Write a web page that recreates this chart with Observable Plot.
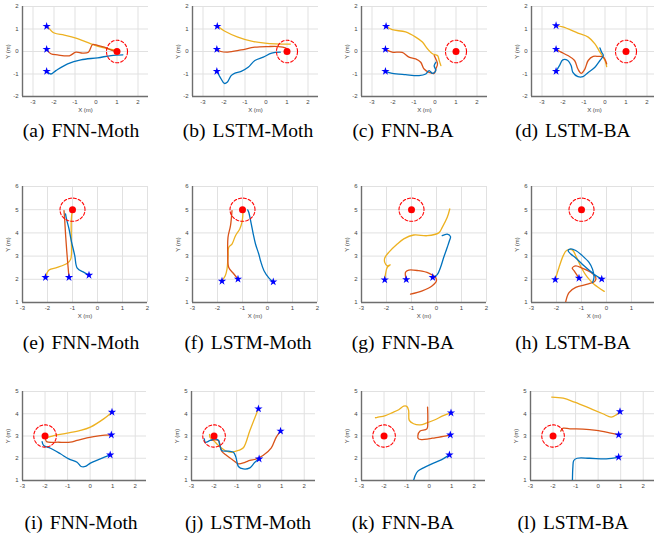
<!DOCTYPE html>
<html><head><meta charset="utf-8">
<script src="https://cdn.jsdelivr.net/npm/d3@7"></script>
<script src="https://cdn.jsdelivr.net/npm/@observablehq/plot@0.6"></script>
<style>
html,body{margin:0;padding:0;background:#fff;}
#root{position:relative;width:654px;height:538px;overflow:hidden;background:#fff;}
.panel{position:absolute;}
.cap{position:absolute;font-family:"Liberation Serif","Times New Roman",serif;font-size:19.5px;line-height:19.5px;color:#000;white-space:nowrap;transform:translateX(-50%);}
.cap .lab{margin-right:7px;}
</style></head><body><div id="root"></div>
<script>
// ---------- DATA ----------
const captionLabels = ["(a)","(b)","(c)","(d)","(e)","(f)","(g)","(h)","(i)","(j)","(k)","(l)"];
const methods = ["FNN-Moth","LSTM-Moth","FNN-BA","LSTM-BA"];

const row1XTicks = [-3,-2,-1,0,1,2];
const row1YTicks = [-2,-1,0,1,2];
const row2XTicks = [-3,-2,-1,0,1,2];
const row2YTicks = [1,2,3,4,5,6];
const row3XTicks = [-3,-2,-1,0,1,2];
const row3YTicks = [1,2,3,4,5];

const targets = [[1,0],[-1,5],[-2,3]];
const targetRadius = 0.5;

const a_stars = [[-2.35,1.12],[-2.35,0.1],[-2.35,-0.88]];
const a_yel = [[-2.31,1.12],[-1.99,0.82],[-1.51,0.73],[-0.88,0.57],[-0.24,0.34],[0.24,0.19],[0.72,0.09],[1.04,0.04]];
const a_red = [[-2.35,0.1],[-2.15,-0.1],[-1.83,-0.15],[-1.27,-0.19],[-0.96,-0.03],[-0.64,-0.07],[-0.36,-0.03],[-0.16,0.31],[0.08,0.27],[0.4,0.19],[0.8,0.04],[0.96,0]];
const a_blu = [[-2.35,-0.88],[-2.15,-1.0],[-1.91,-0.85],[-1.35,-0.55],[-0.72,-0.37],[0.08,-0.28],[0.72,-0.18],[1.28,-0.15]];

const b_stars = [[-2.32,1.12],[-2.34,0.1],[-2.34,-0.88]];
const b_yel = [[-2.3,1.12],[-1.98,0.91],[-1.34,0.64],[-0.69,0.46],[-0.05,0.37],[0.44,0.34],[1.16,0.33]];
const b_red = [[-2.34,0.1],[-2.15,0],[-1.82,-0.03],[-1.18,0.07],[-0.53,0.19],[0.11,0.22],[0.6,0.22],[0.92,0.16],[1.0,0.1]];
const b_blu = [[-2.34,-0.88],[-2.18,-1.15],[-1.98,-1.42],[-1.85,-1.37],[-1.66,-1.07],[-1.5,-0.97],[-1.18,-0.88],[-0.85,-0.7],[-0.53,-0.4],[-0.13,-0.25],[0.27,-0.07],[0.68,-0.03]];

const c_stars = [[-2.33,1.12],[-2.36,0.1],[-2.36,-0.88]];
const c_yel = [[-2.33,1.12],[-2.04,0.97],[-1.4,0.87],[-0.92,0.64],[-0.6,0.42],[-0.36,0.12],[-0.12,-0.1],[0.12,-0.18],[0.2,-0.4],[0.28,-0.63]];
const c_red = [[-2.36,0.1],[-2.04,-0.03],[-1.56,-0.04],[-1.24,-0.25],[-0.92,-0.33],[-0.68,-0.48],[-0.52,-0.78],[-0.28,-0.93],[-0.04,-0.97],[0.04,-0.78],[0.12,-0.55],[0.04,-0.33],[-0.04,-0.18]];
const c_blu = [[-2.36,-0.88],[-2.04,-0.97],[-1.4,-1.03],[-0.76,-1.07],[-0.44,-1.0],[-0.28,-0.85],[-0.12,-0.97],[0.04,-0.85],[-0.04,-0.63],[0.04,-0.48]];

const d_stars = [[-2.33,1.15],[-2.33,0.1],[-2.33,-0.88]];
const d_yel = [[-2.33,1.15],[-2.01,1.09],[-1.29,0.82],[-0.8,0.64],[-0.48,0.34],[-0.24,-0.03],[0,-0.4],[0.08,-0.67]];
const d_red = [[-2.33,0.1],[-2.09,-0.03],[-1.77,-0.18],[-1.45,-0.4],[-1.29,-0.78],[-1.13,-0.97],[-0.96,-0.78],[-0.8,-0.4],[-0.56,-0.22],[-0.32,-0.22],[-0.08,-0.25],[0.08,-0.55]];
const d_blu = [[-2.33,-0.88],[-2.17,-0.63],[-2.01,-0.37],[-1.77,-0.4],[-1.61,-0.63],[-1.53,-0.93],[-1.29,-1.12],[-1.05,-1.12],[-0.8,-0.93],[-0.48,-0.7],[-0.24,-0.4],[-0.08,-0.18],[-0.16,-0.03],[-0.24,0.16]];

const e_stars = [[-2.08,2.08],[-1.14,2.08],[-0.34,2.18]];
const e_yel = [[-2.08,2.08],[-1.94,2.4],[-1.61,2.51],[-1.21,2.69],[-1.07,2.87],[-1.05,3.81],[-1.05,4.53],[-1.01,4.96]];
const e_red = [[-1.14,2.08],[-1.21,2.95],[-1.27,3.81],[-1.31,4.53],[-1.34,4.96]];
const e_blu = [[-0.34,2.18],[-0.54,2.3],[-0.81,2.48],[-0.91,3.02],[-1.05,3.67],[-1.14,4.17],[-1.24,4.6],[-1.28,4.82]];

const f_stars = [[-1.82,1.92],[-1.18,2.01],[0.23,1.89]];
const f_yel = [[-1.82,1.94],[-1.69,2.15],[-1.62,2.44],[-1.58,2.95],[-1.55,3.38],[-1.42,3.52],[-1.28,3.88],[-1.11,4.17],[-1.02,4.46],[-0.98,4.89]];
const f_red = [[-1.18,2.01],[-1.36,2.25],[-1.55,2.51],[-1.59,3.09],[-1.58,3.81],[-1.48,4.31],[-1.42,4.96]];
const f_blu = [[0.23,1.89],[0.06,2.05],[-0.14,2.37],[-0.28,2.8],[-0.35,3.09],[-0.48,3.52],[-0.57,3.95],[-0.65,4.39],[-0.75,4.89],[-0.79,4.99]];

const g_stars = [[-2.07,1.98],[-1.21,1.99],[-0.15,2.08]];
const g_yel = [[-2.07,1.98],[-2.04,2.22],[-1.97,2.51],[-1.85,2.62],[-1.97,2.58],[-2.07,2.73],[-2.07,2.92],[-1.91,3.16],[-1.57,3.52],[-1.31,3.74],[-0.91,3.91],[-0.37,3.88],[0.09,4.0],[0.23,4.24],[0.43,4.67],[0.53,5.03]];
const g_red = [[-1.21,1.99],[-1.24,2.3],[-1.11,2.4],[-0.71,2.37],[-0.31,2.27],[-0.04,2.08],[0,1.94],[-0.17,1.72],[-0.57,1.5],[-1.04,1.36]];
const g_blu = [[-0.15,2.08],[0.03,2.2],[0.16,2.51],[0.29,2.95],[0.43,3.38],[0.52,3.67],[0.56,3.84],[0.43,3.95],[0.23,3.88]];

const h_stars = [[-2.05,1.99],[-1.1,2.05],[-0.19,2.01]];
const h_yel = [[-2.05,1.99],[-1.9,2.51],[-1.73,3.02],[-1.6,3.24],[-1.37,3.27],[-1.2,2.95],[-1.01,2.51],[-0.76,2.08],[-0.5,1.79],[-0.09,1.48]];
const h_red = [[-1.1,2.05],[-1.3,2.37],[-1.37,2.48],[-1.23,2.58],[-0.97,2.48],[-0.63,2.3],[-0.43,2.08],[-0.47,1.91],[-0.76,1.79],[-1.23,1.65],[-1.5,1.43],[-1.63,1.04]];
const h_blu = [[-0.19,2.01],[-0.5,2.22],[-0.9,2.58],[-1.23,2.92],[-1.43,3.09],[-1.54,3.24],[-1.43,3.31],[-1.23,3.24],[-0.97,3.02],[-0.7,2.73],[-0.56,2.44],[-0.5,2.08],[-0.56,1.86]];

const i_stars = [[0.97,4.07],[0.94,3.05],[0.89,2.15]];
const i_yel = [[0.97,4.07],[0.6,3.77],[0.01,3.4],[-0.43,3.25],[-1.02,3.13],[-1.61,3.02],[-1.98,2.92],[-2.09,2.98]];
const i_red = [[0.94,3.05],[0.45,3.02],[-0.14,2.92],[-0.58,2.8],[-0.88,2.72],[-1.39,2.72],[-1.94,2.75],[-1.98,2.92]];
const i_blu = [[0.89,2.15],[0.45,1.97],[0.01,1.78],[-0.21,1.63],[-0.4,1.63],[-0.58,1.82],[-0.95,1.97],[-1.32,2.2],[-1.76,2.45],[-2.06,2.57],[-2.13,2.75]];

const j_stars = [[-0.03,4.22],[0.95,3.22],[0,1.97]];
const j_yel = [[-0.03,4.22],[-0.12,4.0],[-0.41,3.25],[-0.7,2.47],[-0.92,2.35],[-1.22,2.27],[-1.51,2.35],[-1.8,2.57],[-2.02,2.8],[-2.17,2.92],[-2.2,3.07]];
const j_red = [[0.95,3.22],[0.76,2.95],[0.54,2.47],[0.17,2.12],[-0.12,1.97],[-0.41,1.9],[-0.63,1.82],[-0.92,1.75],[-1.14,1.9],[-1.44,2.12],[-1.66,2.32],[-1.73,2.57],[-1.8,2.8],[-1.95,2.83],[-2.17,2.8]];
const j_blu = [[0,1.97],[-0.19,1.82],[-0.41,1.57],[-0.7,1.52],[-0.92,1.63],[-1.03,2.05],[-1.14,2.27],[-1.36,2.32],[-1.66,2.35],[-1.76,2.65],[-1.8,2.8],[-1.95,2.87],[-2.17,2.8],[-2.39,2.72],[-2.43,2.87]];

const k_stars = [[0.97,4.04],[0.94,3.05],[0.9,2.15]];
const k_yel = [[0.97,4.04],[0.63,3.92],[0.26,3.73],[-0.1,3.59],[-0.4,3.5],[-0.69,3.55],[-0.88,3.7],[-0.91,4.15],[-0.99,4.33],[-1.13,4.34],[-1.35,4.18],[-1.65,4.04],[-1.94,3.92],[-2.38,3.82]];
const k_red = [[0.94,3.05],[0.63,2.98],[0.26,2.92],[-0.03,2.87],[-0.32,2.84],[-0.47,2.87],[-0.5,3.02],[-0.4,3.22],[-0.1,3.32],[-0.06,3.7],[-0.07,4.3]];
const k_blu = [[0.9,2.15],[0.56,1.94],[0.12,1.75],[-0.25,1.57],[-0.5,1.42],[-0.62,1.22],[-0.69,1.0]];

const l_stars = [[0.97,4.1],[0.91,3.05],[0.91,2.05]];
const l_yel = [[0.97,4.1],[0.8,3.95],[0.58,3.85],[0.21,4.0],[-0.38,4.25],[-1.04,4.52],[-1.55,4.7],[-2.06,4.75]];
const l_red = [[0.91,3.05],[0.5,3.14],[-0.08,3.25],[-0.67,3.31],[-1.25,3.32],[-1.55,3.35],[-1.66,3.22]];
const l_blu = [[0.91,2.05],[0.36,1.97],[-0.38,2.0],[-0.93,2.0],[-1.08,1.9],[-1.12,1.6],[-1.14,1.0]];

// ---------- LAYOUT ----------
const rows = [
  {top:6, bottom:96, fw:126, xDomain:[-3.5,2.5], yDomain:[-2,2], xTicks:row1XTicks, yTicks:row1YTicks, xLabel:true, capY:131, lefts:[22,192,361,531]},
  {top:186, bottom:302, fw:125, xDomain:[-3,2], yDomain:[1,6], xTicks:row2XTicks, yTicks:row2YTicks, xLabel:true, capY:343, lefts:[22,192,361,531]},
  {top:391, bottom:480, fw:124, xDomain:[-3,2.5], yDomain:[1,5], xTicks:row3XTicks, yTicks:row3YTicks, xLabel:false, capY:523, lefts:[22,191,361,530]}
];
const capCenters = [81,248,403,573];
const panels = [
  [a_yel,a_red,a_blu,a_stars],[b_yel,b_red,b_blu,b_stars],[c_yel,c_red,c_blu,c_stars],[d_yel,d_red,d_blu,d_stars],
  [e_yel,e_red,e_blu,e_stars],[f_yel,f_red,f_blu,f_stars],[g_yel,g_red,g_blu,g_stars],[h_yel,h_red,h_blu,h_stars],
  [i_yel,i_red,i_blu,i_stars],[j_yel,j_red,j_blu,j_stars],[k_yel,k_red,k_blu,k_stars],[l_yel,l_red,l_blu,l_stars]
];
const colYel = "#EDB120", colRed = "#D95319", colBlu = "#0072BD";
const root = document.getElementById("root");
const mL = 24, mR = 3, mT = 4, mB = 20;
const pageWidth = 654;
const angles = d3.range(0, 2*Math.PI + 1e-6, Math.PI/40);

panels.forEach((p, idx) => {
  const r = Math.floor(idx/4), c = idx % 4;
  const R = rows[r];
  const [yel, red, blu, stars] = p;
  const tgt = targets[r];
  const ring = angles.map(a => [tgt[0] + targetRadius*Math.cos(a), tgt[1] + targetRadius*Math.sin(a)]);
  const fh = R.bottom - R.top;
  const left = R.lefts[c];
  const xs = d3.scaleLinear(R.xDomain, [left, left + R.fw]);
  // tick labels that would fall past the page edge are not shown (as in the reference)
  const labelTicks = R.xTicks.filter(t => xs(t) + 4 <= pageWidth);
  const chart = Plot.plot({
    width: R.fw + mL + mR, height: fh + mT + mB,
    marginLeft: mL, marginRight: mR, marginTop: mT, marginBottom: mB,
    x: {domain: R.xDomain},
    y: {domain: R.yDomain},
    style: {fontFamily: "'Liberation Sans', Arial, sans-serif", background: "transparent", overflow: "visible"},
    marks: [
      Plot.gridX(R.xTicks, {stroke: "#e1e1e1", strokeOpacity: 1, strokeWidth: 1}),
      Plot.gridY(R.yTicks, {stroke: "#e1e1e1", strokeOpacity: 1, strokeWidth: 1}),
      Plot.ruleX([R.xDomain[0]], {stroke: "#6e6e6e", strokeWidth: 1.4}),
      Plot.ruleY([R.yDomain[0]], {stroke: "#6e6e6e", strokeWidth: 1.4}),
      Plot.axisX({ticks: labelTicks, tickSize: 0, tickPadding: 3, fontSize: 6, color: "#444",
        tickFormat: d => String(d), label: R.xLabel ? "X (m)" : null, labelAnchor: "center", labelArrow: "none", labelOffset: 15}),
      Plot.axisY({ticks: R.yTicks, tickSize: 0, tickPadding: 4, fontSize: 6, color: "#444",
        tickFormat: d => String(d), label: "Y (m)", labelAnchor: "center", labelArrow: "none", labelOffset: 17}),
      Plot.line(yel, {x: d => d[0], y: d => d[1], stroke: colYel, strokeWidth: 1.3, curve: "catmull-rom", clip: true}),
      Plot.line(red, {x: d => d[0], y: d => d[1], stroke: colRed, strokeWidth: 1.3, curve: "catmull-rom", clip: true}),
      Plot.line(blu, {x: d => d[0], y: d => d[1], stroke: colBlu, strokeWidth: 1.3, curve: "catmull-rom", clip: true}),
      Plot.line(ring, {x: d => d[0], y: d => d[1], stroke: "#ff0000", strokeWidth: 1.1, strokeDasharray: "3,2"}),
      Plot.dot([tgt], {x: d => d[0], y: d => d[1], r: 3.5, fill: "#ff0000"}),
      Plot.dot(stars, {x: d => d[0], y: d => d[1], symbol: "star", r: 2.6, fill: "#0000ff"})
    ]
  });
  chart.classList.add("panel");
  chart.style.left = (left - mL) + "px";
  chart.style.top = (R.top - mT) + "px";
  root.appendChild(chart);
  const cap = document.createElement("div");
  cap.className = "cap";
  cap.style.left = capCenters[c] + "px";
  cap.style.top = (R.capY - 9.75) + "px";
  const lab = document.createElement("span");
  lab.className = "lab";
  lab.textContent = captionLabels[idx];
  cap.appendChild(lab);
  cap.appendChild(document.createTextNode(methods[c]));
  root.appendChild(cap);
});
</script></body></html>
